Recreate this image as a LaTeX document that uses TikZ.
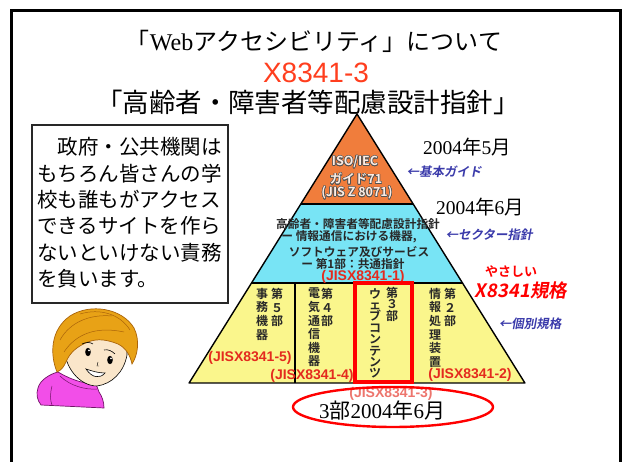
\documentclass[tikz,border=0pt]{standalone}
\usepackage{fontspec}
\setmainfont{Liberation Serif}
\newfontfamily\jp{Noto Sans CJK JP}[BoldFont={Noto Sans CJK JP Bold}]
\newfontfamily\jpsl{Noto Sans CJK JP Bold}[FakeSlant=0.18]
\newfontfamily\arialf{Liberation Sans}
\usepackage{contour}
\contourlength{0.55pt}
\usetikzlibrary{shapes.geometric}

\definecolor{pyrorange}{RGB}{240,125,60}
\definecolor{pyrcyan}{RGB}{120,228,245}
\definecolor{pyryellow}{RGB}{250,246,140}
\definecolor{labelred}{RGB}{228,42,30}
\definecolor{titlered}{RGB}{255,62,30}
\definecolor{guideblue}{RGB}{58,58,170}
\definecolor{darktext}{RGB}{40,40,40}
\definecolor{hair}{RGB}{232,162,22}
\definecolor{hairdark}{RGB}{170,100,10}
\definecolor{skin}{RGB}{250,230,202}
\definecolor{sweater}{RGB}{242,78,232}
\definecolor{sweaterline}{RGB}{110,20,100}

\newcommand\setfs[1]{\fontsize{#1}{#1}\selectfont}

\tikzset{
  pyrline/.style={line width=1.4pt, black},
  titlejp/.style={inner sep=0pt, font=\jp\setfs{26.5}},
  orangetxt/.style={inner sep=0pt, text=white!85!pyrorange, font=\jp\bfseries\setfs{12.5}},
  sectxt/.style={inner sep=0pt, text=darktext, font=\jp\bfseries\setfs{11.7}},
  colv/.style={inner sep=0pt, anchor=north, align=center, text=darktext,
               font=\jp\bfseries\fontsize{12}{13.6}\selectfont},
  colvtight/.style={colv, font=\jp\bfseries\fontsize{12}{11.4}\selectfont},
  jislabel/.style={inner sep=0pt, text=labelred, font=\arialf\bfseries\setfs{14}},
  datetxt/.style={inner sep=0pt, font=\setfs{19.5}},
  guidetxt/.style={inner sep=0pt, text=guideblue, font=\jpsl\setfs{12.5}},
  notebox/.style={draw=darktext, line width=1.3pt, fill=white},
  notetext/.style={inner sep=0pt, align=left, anchor=north west,
                   font=\jp\fontsize{20.5}{26.3}\selectfont},
}

\begin{document}
\begin{tikzpicture}[x=1pt, y=-1pt]
\useasboundingbox (0,0) rectangle (625,462);

% slide frame (its bottom edge runs off the page)
\draw[line width=3.5pt] (11.5,480) -- (11.5,10.5) -- (620.5,10.5) -- (620.5,480);

% headings
\node[inner sep=0pt, font=\setfs{24}] (head1) at (314,41)
  {{\jp 「}Web{\jp アクセシビリティ」について}};
\node[inner sep=0pt, text=titlered, font=\arialf\setfs{28}] (head2) at (316,73) {X8341-3};
\node[titlejp] (head3) at (308,102) {「高齢者・障害者等配慮設計指針」};

% pyramid
\coordinate (apex) at (357,114);
\coordinate (oL) at (300.8,204);
\coordinate (oR) at (413.2,204);
\coordinate (cL) at (251.5,283);
\coordinate (cR) at (462.5,283);
\coordinate (yL) at (189.1,383);
\coordinate (yR) at (524.9,383);
\fill[pyrorange] (apex) -- (oR) -- (oL) -- cycle;
\fill[pyrcyan] (oL) -- (oR) -- (cR) -- (cL) -- cycle;
\fill[pyryellow] (cL) -- (cR) -- (yR) -- (yL) -- cycle;
\draw[pyrline] (oL) -- (oR);
\draw[pyrline] (cL) -- (cR);
\draw[pyrline] (295,283) -- (295,383);
\draw[pyrline] (355,283) -- (355,383);
\draw[pyrline] (413,283) -- (413,383);
\draw[pyrline, line join=round] (apex) -- (yR) -- (yL) -- cycle;

% top tier
\node[orangetxt] (iso) at (355,162) {\contour{darktext!80}{ISO/IEC}};
\node[orangetxt] (guide) at (356,179) {\contour{darktext!80}{ガイド71}};
\node[orangetxt] (jisz) at (357,193) {\contour{darktext!80}{(JIS Z 8071)}};

% middle tier
\node[sectxt] (sec1) at (358,224) {高齢者・障害者等配慮設計指針};
\node[sectxt] (sec2) at (349,237) {ー 情報通信における機器,};
\node[sectxt] (sec3) at (359,252) {ソフトウェア及びサービス};
\node[sectxt] (sec4) at (353,264) {ー 第1部：共通指針};
\node[jislabel] (jis1) at (363,277) {(JISX8341-1)};

% bottom tier columns
\node[colv] (a1) at (262,288) {事\\務\\機\\器};
\node[colv] (a2) at (277,288) {第\\５\\部};
\node[colv] (b1) at (314,288) {電\\気\\通\\信\\機\\器};
\node[colv] (b2) at (327,288) {第\\４\\部};
\node[colvtight] (c1) at (375,288) {ウ\\ェ\\ブ\\コ\\ン\\テ\\ン\\ツ};
\node[colvtight] (c2) at (392,287) {第\\３\\部};
\node[colv] (d1) at (435,288) {情\\報\\処\\理\\装\\置};
\node[colv] (d2) at (450,288) {第\\２\\部};
\draw[red, line width=4pt] (355,283) rectangle (412,382);

\node[jislabel] (jis5) at (250,358) {(JISX8341-5)};
\node[jislabel] (jis4) at (312,376) {(JISX8341-4)};
\node[jislabel] (jis2) at (470,375) {(JISX8341-2)};
\node[jislabel, text=labelred!65] (jis3) at (391,393.5) {(JISX8341-3)};

% dates and tier names
\node[datetxt] (date1) at (467,147) {2004{\jp 年}5{\jp 月}};
\node[guidetxt] (tier1) at (444,172) {←基本ガイド};
\node[datetxt] (date2) at (480,207) {2004{\jp 年}6{\jp 月}};
\node[guidetxt] (tier2) at (489,235) {←セクター指針};
\node[inner sep=0pt, text=red, font=\jp\bfseries\setfs{13}] (easy) at (511,272) {やさしい};
\node[inner sep=0pt, text=red, font=\jpsl\setfs{18.5}] (easyjis) at (521,290) {X8341規格};
\node[guidetxt] (tier3) at (530,324) {←個別規格};

% release date of part 3
\node[draw=red, line width=2.4pt, ellipse, minimum width=200pt, minimum height=40pt,
      inner sep=0pt] (oval) at (393,407) {};
\node[inner sep=0pt, font=\setfs{21}] (part3) at (382,410.5) {3{\jp 部}2004{\jp 年}6{\jp 月}};

% speech box
\node[notebox, minimum width=196pt, minimum height=178pt, inner sep=0pt] (note) at (130,214) {};
\node[notetext] (notetxt) at (37,137.5)
  {　政府・公共機関は\\もちろん皆さんの学\\校も誰もがアクセス\\できるサイトを作ら\\ないといけない責務\\を負います。};

% girl: sweater, face, hair
\fill[sweater, draw=sweaterline, line width=0.7pt]
  (38,388) .. controls (40,380) and (50,374) .. (58,372)
  .. controls (68,378) and (82,384) .. (96,384)
  -- (99,392) .. controls (102,396) and (104,402) .. (104,408)
  -- (41,405) .. controls (37,400) and (36,394) .. (38,388) -- cycle;
\draw[sweaterline, line width=0.5pt] (60,376) .. controls (70,386) and (86,390) .. (97,389);
\draw[sweaterline, line width=0.5pt] (52,386) .. controls (50,394) and (50,400) .. (52,405);
\fill[skin, draw=black, line width=0.6pt]
  (64,345) .. controls (64,368) and (80,386) .. (97,386)
  .. controls (112,384) and (124,372) .. (127,355)
  .. controls (128,342) and (120,332) .. (100,330)
  .. controls (80,330) and (64,335) .. (64,345) -- cycle;
\fill[hair, draw=hairdark, line width=0.7pt]
  (57,372) .. controls (50,355) and (50,330) .. (70,316)
  .. controls (90,303) and (122,308) .. (134,328)
  .. controls (140,340) and (138,355) .. (132,364)
  .. controls (130,355) and (126,348) .. (118,344)
  .. controls (108,340) and (98,338) .. (88,342)
  .. controls (78,346) and (70,352) .. (66,362)
  .. controls (64,366) and (62,370) .. (57,372) -- cycle;
\draw[hairdark, line width=0.5pt] (60,340) .. controls (70,322) and (90,314) .. (112,316);
\draw[hairdark, line width=0.5pt] (64,352) .. controls (76,334) and (96,326) .. (124,332);
\draw[hairdark, line width=0.5pt] (80,314) .. controls (100,308) and (120,314) .. (130,330);
% eyes, brows, nose, mouth
\draw[black, line width=0.6pt] (82,344) .. controls (86,342) and (90,342) .. (93,344);
\draw[black, line width=0.6pt] (104,350) .. controls (108,349) and (112,351) .. (115,354);
\fill[black] (88,352) ellipse (2.8pt and 4.2pt);
\fill[black] (110,360) ellipse (2.8pt and 4.2pt);
\fill[white] (89,350.5) circle (1pt);
\fill[white] (111,358.5) circle (1pt);
\draw[black, line width=0.4pt] (98,362) -- (97,366) -- (99,366);
\fill[white, draw=black, line width=0.6pt]
  (86,369) .. controls (92,378) and (100,379) .. (105,373)
  .. controls (98,373) and (92,371) .. (86,369) -- cycle;
\end{tikzpicture}
\end{document}
